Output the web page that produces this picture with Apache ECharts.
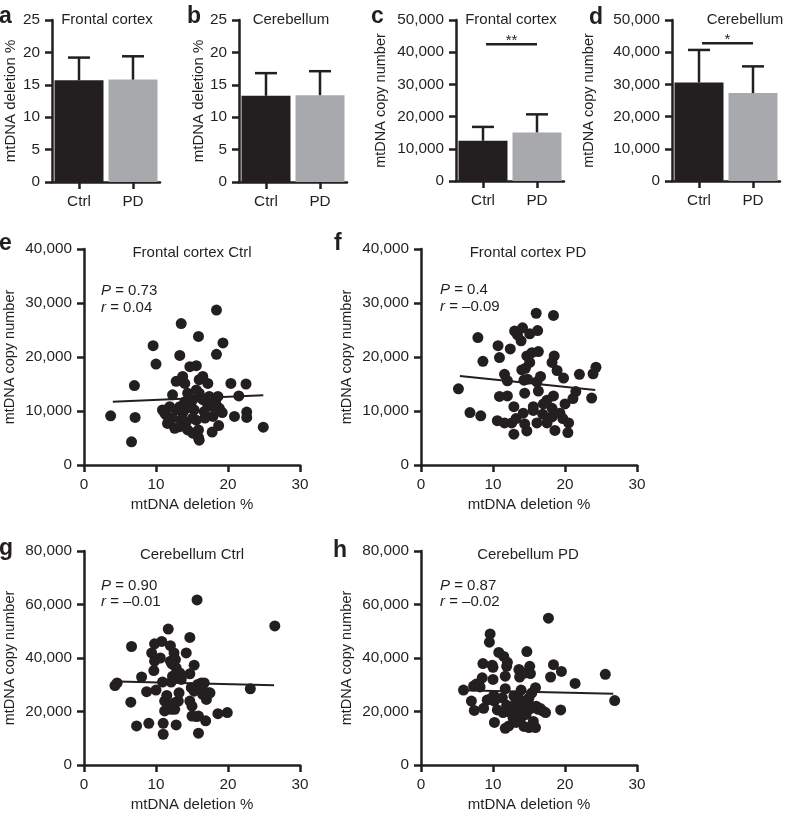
<!DOCTYPE html>
<html>
<head>
<meta charset="utf-8">
<script src="https://cdn.jsdelivr.net/npm/echarts@6/dist/echarts.min.js"></script>
<style>
html,body{margin:0;padding:0;background:#fff;}
#chart{width:786px;height:813px;}
</style>
</head>
<body>
<div id="chart"></div>
<script>
// ---------- data ----------
const barCats = ['Ctrl', 'PD'];
const delFrontalMean = [15.7, 15.8];
const delFrontalUpper = [19.2, 19.4];
const delCerebMean = [13.3, 13.4];
const delCerebUpper = [16.8, 17.1];
const cnFrontalMean = [12500, 15100];
const cnFrontalUpper = [16800, 20700];
const cnCerebMean = [30600, 27300];
const cnCerebUpper = [40700, 35600];
const sigFrontal = [0, 1, 42500, '**'];
const sigCereb = [0, 1, 42800, '*'];
const barColors = ['#231f20', '#a7a9ac'];

const fcCtrlPoints = [[3.7,9100],[6.6,4300],[7.1,8800],[7.0,14700],[9.6,22100],[10.0,18700],[13.5,26200],[13.3,20300],[15.9,23800],[18.4,28700],[19.3,22600],[18.4,20500],[20.4,15100],[22.5,15000],[21.5,12800],[22.6,9800],[22.6,8800],[20.9,9000],[24.9,7000],[19.2,9700],[18.7,7300],[17.8,6100],[16.8,8700],[15.9,5100],[15.9,6500],[15.6,8300],[15.3,10200],[15.1,12100],[14.4,13300],[14.0,15100],[13.7,16400],[12.8,15500],[12.3,13000],[11.9,10800],[11.2,9600],[11.6,7700],[12.6,6800],[13.5,8300],[13.7,9600],[14.2,10500],[14.7,18200],[15.6,18400],[16.0,15800],[16.5,16400],[17.2,15100],[15.6,13900],[16.0,13300],[16.5,12100],[17.4,12700],[18.6,12700],[18.3,11400],[17.9,10800],[18.8,10500],[17.2,11100],[16.7,9900],[15.1,8700],[14.2,8000],[13.3,7100],[12.3,8700],[12.8,10200],[10.9,10200],[11.4,9300],[14.4,6500],[15.1,5900],[16.0,4600],[13.3,10800],[14.0,11700],[14.9,10800],[17.9,9000]];
const fcCtrlFit = [[4.0,11700],[24.9,12900]];

const fcPdPoints = [[5.2,14100],[6.8,9700],[8.3,9100],[7.9,23600],[8.6,19200],[10.7,22100],[10.9,19900],[12.4,21500],[11.6,16800],[12.0,15600],[10.9,12700],[12.0,12800],[10.6,8200],[11.6,7800],[12.6,7800],[12.9,5700],[13.2,8600],[12.9,10800],[14.2,9600],[14.4,7600],[14.7,6300],[14.4,13300],[13.0,24800],[13.4,24100],[14.1,25400],[13.9,23000],[15.1,24300],[16.2,24900],[16.0,28100],[18.4,27700],[14.7,20200],[15.4,20800],[16.3,21000],[15.1,19000],[14.5,17900],[14.0,17600],[14.3,15700],[14.8,15900],[16.1,15400],[16.6,16400],[16.3,13700],[18.5,20200],[18.2,19000],[18.9,17500],[19.8,16100],[22.0,16800],[23.9,16900],[24.3,18100],[23.7,12400],[21.1,12300],[21.5,13600],[20.0,11300],[18.4,12800],[17.5,12000],[17.0,11300],[18.2,10500],[15.6,10800],[15.6,10100],[16.9,9400],[18.2,8900],[19.3,9600],[19.7,8600],[20.5,7800],[20.4,6000],[18.6,6400],[17.5,7800],[16.1,7800]];
const fcPdFit = [[5.4,16500],[24.2,13900]];

const cbCtrlPoints = [[4.3,29700],[4.6,30700],[6.5,23500],[6.6,44300],[7.3,14600],[8.0,32900],[8.7,27400],[9.0,15600],[9.4,41900],[9.8,45300],[9.8,38800],[9.7,35300],[10.0,28000],[10.6,40000],[10.8,46200],[11.0,11500],[11.0,15600],[11.2,20200],[11.2,23900],[10.9,31000],[11.7,50800],[12.0,44600],[12.0,38800],[12.2,37800],[12.5,41900],[12.7,39400],[12.8,36300],[12.3,33200],[12.1,31000],[11.5,26000],[11.6,22400],[12.1,20800],[12.6,20800],[12.6,23300],[12.8,15000],[13.1,23900],[13.2,27000],[13.5,32000],[13.3,34400],[14.2,41900],[14.7,47700],[14.7,34100],[14.9,28900],[14.7,23900],[15.0,22000],[15.3,37300],[15.3,27600],[15.0,18300],[15.6,18100],[15.9,18300],[15.9,11900],[15.7,61700],[15.8,30100],[16.3,30700],[16.7,30700],[17.0,24500],[17.2,27000],[17.5,27000],[16.9,16500],[18.6,19200],[19.9,19600],[23.1,28500],[26.5,52000],[16.4,28200],[16.5,26400]];
const cbCtrlFit = [[4.7,31200],[26.4,29800]];

const cbPdPoints = [[5.9,28000],[7.3,29500],[7.7,30300],[8.2,29200],[7.0,23900],[7.4,20400],[8.5,32600],[8.6,37900],[8.7,21200],[9.2,24300],[9.5,24500],[9.6,49000],[9.5,45900],[10.0,36500],[9.9,37300],[10.0,32000],[10.1,26000],[10.2,23900],[10.2,15900],[10.6,20600],[10.8,42100],[11.3,25100],[11.4,19600],[11.5,40600],[11.7,33200],[11.7,28500],[11.9,22300],[11.7,13700],[11.9,36900],[12.0,38400],[12.2,14600],[12.4,19600],[12.6,20800],[12.9,25800],[13.2,23900],[13.2,15900],[13.3,22000],[13.4,18300],[13.6,35700],[13.7,32900],[13.8,17100],[13.7,24500],[13.9,28000],[14.0,20200],[14.2,19600],[14.3,14400],[14.5,34400],[14.7,42400],[15.0,14000],[14.6,18900],[14.9,23300],[15.0,25100],[15.1,36900],[15.2,34200],[15.2,21100],[15.4,27000],[15.6,16300],[15.9,28900],[15.9,14000],[16.0,22000],[16.3,20800],[16.6,21100],[16.9,20200],[17.3,19600],[17.7,54900],[18.0,32900],[18.4,37500],[19.4,20600],[19.5,35000],[21.4,30500],[25.6,33900],[26.9,24100],[13.0,21000],[12.8,17500],[14.4,22500]];
const cbPdFit = [[5.7,27900],[26.7,26600]];

const xTicksScatter = [0, 10, 20, 30];

// ---------- style helpers ----------
const FONT = '"Liberation Sans", Arial, Helvetica, sans-serif';
const INK = '#231f20';
const fmt = v => String(v).replace(/\B(?=(\d{3})+(?!\d))/g, ',');

const grids = [
  {left: 52,  top: 20,  width: 108, height: 162},
  {left: 239, top: 20,  width: 108, height: 162},
  {left: 456, top: 20,  width: 108, height: 161},
  {left: 672, top: 20,  width: 108, height: 161},
  {left: 84,  top: 249, width: 216, height: 216},
  {left: 421, top: 249, width: 216, height: 216},
  {left: 84,  top: 551, width: 216, height: 215},
  {left: 421, top: 551, width: 216, height: 215}
].map(g => Object.assign({containLabel: false}, g));

const lineStyle = {color: INK, width: 2.5};
const labelStyle = {color: INK, fontSize: 15.3, fontFamily: FONT, margin: 12};

function yAxisDef(gi, max, interval, name, gap, nameSize) {
  return {
    type: 'value', gridIndex: gi, min: 0, max: max, interval: interval,
    name: name, nameLocation: 'middle', nameGap: gap,
    nameTextStyle: {color: INK, fontSize: nameSize, fontFamily: FONT},
    axisLine: {show: true, lineStyle: lineStyle},
    axisTick: {show: true, length: 7, lineStyle: lineStyle},
    axisLabel: Object.assign({formatter: fmt}, labelStyle),
    splitLine: {show: false}
  };
}
function catAxisDef(gi) {
  return {
    type: 'category', gridIndex: gi, data: barCats, boundaryGap: true,
    axisLine: {show: true, lineStyle: lineStyle},
    axisTick: {show: true, alignWithLabel: true, length: 7, lineStyle: lineStyle},
    axisLabel: labelStyle,
    splitLine: {show: false}
  };
}
function scatXAxisDef(gi) {
  return {
    type: 'value', gridIndex: gi, min: xTicksScatter[0], max: xTicksScatter[xTicksScatter.length - 1], interval: 10,
    name: 'mtDNA deletion %', nameLocation: 'middle', nameGap: 32,
    nameTextStyle: {color: INK, fontSize: 15, fontFamily: FONT},
    axisLine: {show: true, onZero: false, lineStyle: lineStyle},
    axisTick: {show: true, length: 7, lineStyle: lineStyle},
    axisLabel: labelStyle,
    splitLine: {show: false}
  };
}

function barSeries(gi, means) {
  return {
    type: 'bar', xAxisIndex: gi, yAxisIndex: gi, barWidth: 49,
    data: means.map((m, k) => ({value: m, itemStyle: {color: barColors[k]}})),
    silent: true
  };
}
function errSeries(gi, means, uppers) {
  return {
    type: 'custom', xAxisIndex: gi, yAxisIndex: gi, z: 5, silent: true,
    data: means.map((m, k) => [k, m, uppers[k]]),
    encode: {x: 0, y: [1, 2]},
    renderItem: function (params, api) {
      const lo = api.coord([api.value(0), api.value(1)]);
      const hi = api.coord([api.value(0), api.value(2)]);
      const hw = 11;
      const st = {stroke: INK, lineWidth: 2.5};
      return {type: 'group', children: [
        {type: 'line', shape: {x1: lo[0], y1: lo[1], x2: hi[0], y2: hi[1]}, style: st},
        {type: 'line', shape: {x1: hi[0] - hw, y1: hi[1], x2: hi[0] + hw, y2: hi[1]}, style: st}
      ]};
    }
  };
}
function sigSeries(gi, sig) {
  return {
    type: 'custom', xAxisIndex: gi, yAxisIndex: gi, z: 5, silent: true,
    data: [sig],
    renderItem: function (params, api) {
      const p1 = api.coord([api.value(0), api.value(2)]);
      const p2 = api.coord([api.value(1), api.value(2)]);
      const x1 = p1[0] + 3, x2 = p2[0];
      return {type: 'group', children: [
        {type: 'line', shape: {x1: x1, y1: p1[1], x2: x2, y2: p2[1]}, style: {stroke: INK, lineWidth: 2.5}},
        {type: 'text', style: {text: sig[3], x: (x1 + x2) / 2, y: p1[1] - 3.5, align: 'center', verticalAlign: 'middle', fill: INK, fontSize: 15, fontFamily: FONT}}
      ]};
    }
  };
}
function scatterSeries(gi, pts) {
  return {type: 'scatter', xAxisIndex: gi, yAxisIndex: gi, data: pts, symbolSize: 11, itemStyle: {color: INK, opacity: 1}, silent: true, z: 3};
}
function fitSeries(gi, pts) {
  return {type: 'line', xAxisIndex: gi, yAxisIndex: gi, data: pts, symbol: 'none', lineStyle: {color: INK, width: 2}, silent: true, z: 4};
}

// ---------- text (graphic) ----------
function txt(x, y, text, opts) {
  return {type: 'text', x: x, y: y, style: Object.assign({text: text, fill: INK, fontSize: 15, fontFamily: FONT, align: 'center', verticalAlign: 'middle'}, opts || {})};
}
function letter(x, y, t) {
  return txt(x, y, t, {fontSize: 23, fontWeight: 'bold', align: 'left', verticalAlign: 'bottom'});
}
function stat(x, y, sym, val) {
  return {type: 'text', x: x, y: y, style: {
    text: '{i|' + sym + '} = ' + val, fill: INK, fontSize: 15, fontFamily: FONT, align: 'left', verticalAlign: 'middle',
    rich: {i: {fontStyle: 'italic', fontSize: 15, fontFamily: FONT, fill: INK}}
  }};
}

const graphics = [
  letter(-1, 28, 'a'), letter(187, 28, 'b'), letter(371, 28, 'c'), letter(589, 29, 'd'),
  letter(-1, 255, 'e'), letter(334, 255, 'f'), letter(-1, 560, 'g'), letter(333, 562, 'h'),
  txt(107, 20, 'Frontal cortex'), txt(291, 20, 'Cerebellum'),
  txt(511, 20, 'Frontal cortex'), txt(745, 20, 'Cerebellum'),
  txt(192, 253, 'Frontal cortex Ctrl'), txt(528, 253, 'Frontal cortex PD'),
  txt(192, 555, 'Cerebellum Ctrl'), txt(528, 555, 'Cerebellum PD'),
  stat(101, 291, 'P', '0.73'), stat(101, 308, 'r', '0.04'),
  stat(440, 290, 'P', '0.4'), stat(440, 307, 'r', '\u20130.09'),
  stat(101, 586, 'P', '0.90'), stat(101, 602, 'r', '\u20130.01'),
  stat(440, 586, 'P', '0.87'), stat(440, 602, 'r', '\u20130.02')
];

const option = {
  backgroundColor: '#ffffff',
  animation: false,
  textStyle: {fontFamily: FONT},
  grid: grids,
  xAxis: [catAxisDef(0), catAxisDef(1), catAxisDef(2), catAxisDef(3),
          scatXAxisDef(4), scatXAxisDef(5), scatXAxisDef(6), scatXAxisDef(7)],
  yAxis: [
    yAxisDef(0, 25, 5, 'mtDNA deletion %', 34, 15),
    yAxisDef(1, 25, 5, 'mtDNA deletion %', 31, 15),
    yAxisDef(2, 50000, 10000, 'mtDNA copy number', 68, 14.5),
    yAxisDef(3, 50000, 10000, 'mtDNA copy number', 76, 14.5),
    yAxisDef(4, 40000, 10000, 'mtDNA copy number', 67, 14.5),
    yAxisDef(5, 40000, 10000, 'mtDNA copy number', 67, 14.5),
    yAxisDef(6, 80000, 20000, 'mtDNA copy number', 67, 14.5),
    yAxisDef(7, 80000, 20000, 'mtDNA copy number', 67, 14.5)
  ],
  series: [
    barSeries(0, delFrontalMean), errSeries(0, delFrontalMean, delFrontalUpper),
    barSeries(1, delCerebMean), errSeries(1, delCerebMean, delCerebUpper),
    barSeries(2, cnFrontalMean), errSeries(2, cnFrontalMean, cnFrontalUpper), sigSeries(2, sigFrontal),
    barSeries(3, cnCerebMean), errSeries(3, cnCerebMean, cnCerebUpper), sigSeries(3, sigCereb),
    scatterSeries(4, fcCtrlPoints), fitSeries(4, fcCtrlFit),
    scatterSeries(5, fcPdPoints), fitSeries(5, fcPdFit),
    scatterSeries(6, cbCtrlPoints), fitSeries(6, cbCtrlFit),
    scatterSeries(7, cbPdPoints), fitSeries(7, cbPdFit)
  ],
  graphic: graphics
};

const chart = echarts.init(document.getElementById('chart'), null, {renderer: 'canvas'});
chart.setOption(option);
</script>
</body>
</html>
